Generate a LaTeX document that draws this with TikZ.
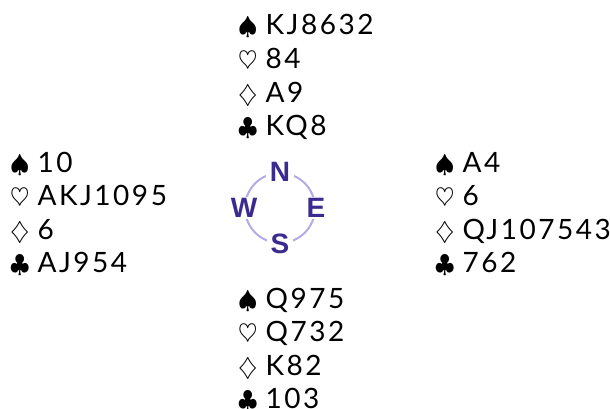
\documentclass[tikz,border=0pt]{standalone}
\usepackage{amsmath,amssymb}
\usepackage{fontspec}
\setmainfont{Lato}[LetterSpace=9]
\newfontfamily\compassfont{Liberation Sans}[BoldFont={Liberation Sans Bold}]
\usepackage{tikz}

\definecolor{compassblue}{HTML}{3B2A8F}
\definecolor{compassring}{HTML}{B4AAE6}

% one hand: spades, hearts, diamonds, clubs
\newcommand{\handrows}[4]{%
\begin{tabular}[t]{@{}l@{\hspace{8pt}}l@{}}
$\spadesuit$ & #1\\
$\heartsuit$ & #2\\
$\diamondsuit$ & #3\\
$\clubsuit$ & #4
\end{tabular}}

\tikzset{
  hand/.style={anchor=base west, inner sep=0pt, font=\fontsize{28}{33.6}\selectfont},
  seat/.style={fill=white, inner xsep=4pt, inner ysep=1pt, text=compassblue,
    font=\fontsize{28}{28}\compassfont\bfseries}
}

\begin{document}
\begin{tikzpicture}[x=1pt,y=-1pt]
\useasboundingbox (0,0) rectangle (610,409);

\node[hand] (north) at (238,35) {\handrows{KJ8632}{84}{A9}{KQ8}};
\node[hand] (west) at (10,172) {\handrows{10}{AKJ1095}{6}{AJ954}};
\node[hand] (east) at (435,172) {\handrows{A4}{6}{QJ107543}{762}};
\node[hand] (south) at (238,308) {\handrows{Q975}{Q732}{K82}{103}};

% compass
\node[circle, draw=compassring, line width=2pt, minimum size=70pt, inner sep=0pt] (compass) at (280,208) {};
\node[seat] (n) at (compass.north) {N};
\node[seat] (s) at (compass.south) {S};
\node[seat] (w) at (compass.west) {W};
\node[seat] (e) at (compass.east) {E};

\end{tikzpicture}
\end{document}
